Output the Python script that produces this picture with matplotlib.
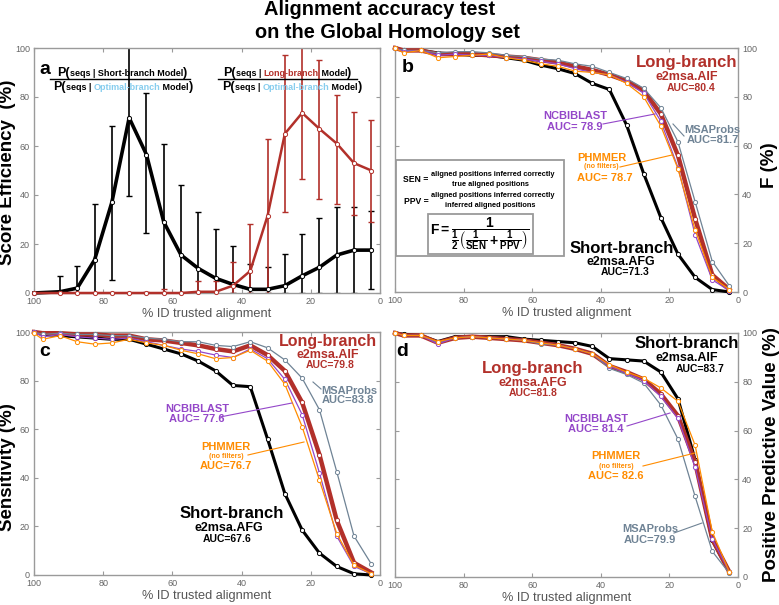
import numpy as np
import matplotlib.pyplot as plt
from matplotlib.lines import Line2D
from matplotlib.patches import Rectangle

plt.rcParams['font.family'] = ['Liberation Sans', 'DejaVu Sans']
plt.rcParams['mathtext.fontset'] = 'custom'
plt.rcParams['mathtext.rm'] = 'Liberation Sans:bold'
plt.rcParams['mathtext.it'] = 'Liberation Sans:bold'
plt.rcParams['mathtext.bf'] = 'Liberation Sans:bold'

# ---- data ----
# panel a: score efficiency
x_a = [100, 92.5, 87.5, 82.5, 77.5, 72.5, 67.5, 62.5, 57.5, 52.5,
       47.5, 42.5, 37.5, 32.5, 27.5, 22.5, 17.5, 12.5, 7.5, 2.5]
short_eff = [0, 0.5, 2, 13.5, 37, 71.5, 56.5, 29, 15.5, 10, 6, 3.5, 1.5, 1.5, 3, 7, 10.5, 15.5, 17.5, 17.5]
short_lo = [0, 0, 0, 0, 5.5, 39.5, 24.5, 0, 0, 0, 0, 0, 0, 0, 0, 0, 0, 0, 0, 1.5]
short_hi = [0, 7, 11, 36.5, 68, 104, 81.5, 61, 44, 33, 26, 19, 12, 10.5, 16, 24, 30.5, 35, 35, 33.5]
long_eff = [0, 0, 0, 0, 0, 0, 0, 0, 0, 0.5, 0.5, 3, 9, 31.5, 65, 73.5, 67, 61, 53, 50]
long_lo = [0, 0, 0, 0, 0, 0, 0, 0, 0, 0, 0, 0, 0, 0, 33, 46.5, 38.5, 36.5, 32, 29]
long_hi = [0, 0, 0, 0, 0, 0, 0.5, 1.5, 0, 5, 5, 12.5, 28, 63, 97, 104, 95, 81, 74, 70.5]

# panels b-d
x = [100, 97.5, 92.5, 87.5, 82.5, 77.5, 72.5, 67.5, 62.5, 57.5, 52.5,
     47.5, 42.5, 37.5, 32.5, 27.5, 22.5, 17.5, 12.5, 7.5, 2.5]

F_short = [100, 99, 99, 98, 97.5, 97, 97, 96, 95, 93, 91.5, 89.5, 85.5, 83, 68.5, 48.5, 30.5, 15.5, 6, 1, 0]
F_long = [100, 99, 99, 97.5, 97.5, 97.5, 97, 96.5, 96, 95, 94, 92.5, 91, 89, 86.5, 82.5, 73, 56, 30, 7, 1]
F_msa = [100, 99, 99, 98, 98.5, 98.5, 98, 97, 96.5, 95.5, 95, 93.5, 92.5, 90, 87.5, 83.5, 75.5, 61.5, 37, 12.5, 2.5]
F_blast = [100, 98.5, 99, 97, 97.5, 97, 97, 96, 95.5, 94.5, 93.5, 91.5, 90, 89, 86, 81.5, 70, 51, 23.5, 5, 0.5]
F_hmmer = [100, 98, 99, 96, 96.5, 97, 97.5, 96, 95, 93.5, 92.5, 90.5, 90, 89, 85.5, 80, 68, 50.5, 25.5, 6, 1]

S_short = [100, 99, 98.5, 98, 97.5, 97, 97, 95, 93, 91, 88, 84, 78, 77.5, 56, 33.5, 18.5, 9, 3.5, 0.5, 0]
S_long = [100, 99.5, 99.5, 99, 99, 98.5, 98.5, 97, 96.5, 95.5, 94.5, 93, 92, 94.5, 90.5, 84, 71, 49.5, 22.5, 5, 1]
S_msa = [100, 99, 99.5, 99, 99, 98.5, 98.5, 97.5, 97, 96, 96, 94.5, 94, 96, 93.5, 88.5, 81, 68, 42.5, 16, 4.5]
S_blast = [100, 98, 99, 98, 97.5, 97, 97.5, 96, 94.5, 93, 92, 90.5, 89.5, 93, 89, 80.5, 66, 42, 16, 3.5, 0.5]
S_hmmer = [99.5, 97, 98.5, 96, 95, 95.5, 97, 95.5, 94.5, 92.5, 91, 89, 89.5, 92.5, 88, 78.5, 61, 39, 17, 4, 0.5]

P_short = [100, 99.5, 99, 96.5, 98.5, 98.5, 98.5, 98.5, 97.5, 97, 96.5, 96, 94.5, 89.5, 89, 88.5, 84, 73, 48, 15, 2]
P_long = [100, 99, 99, 96, 98, 98.5, 98, 97.5, 97, 96, 95, 93.5, 91.5, 86.5, 84, 81, 75, 66, 47, 15.5, 2]
P_msa = [100, 99, 99, 96, 98, 98.5, 98, 97.5, 97, 95.5, 95, 93.5, 91.5, 85.5, 83, 79.5, 70.5, 56.5, 33, 10.5, 1.5]
P_blast = [100, 99, 99, 95.5, 98, 98.5, 98, 97.5, 97, 96, 95, 93.5, 91.5, 86.5, 83.5, 80.5, 74, 65, 45, 15.5, 2]
P_hmmer = [100, 99, 99, 96.5, 98, 98.5, 98, 97.5, 97, 96, 95, 93.5, 91.5, 87, 84, 81.5, 77.5, 72, 54, 18.5, 2]

RED = '#b2302a'
PURPLE = '#9447c9'
ORANGE = '#ff8c00'
SLATE = '#6f8395'
LBLUE = '#86cdee'
GRAY = '#9a9a9a'

W, H = 779, 605
fig = plt.figure(figsize=(W / 100, H / 100), dpi=100)


def add_ax(l, t, r, b):
    return fig.add_axes([l / W, 1 - b / H, (r - l) / W, (b - t) / H])


def style(ax, right=False):
    ax.set_xlim(100, 0)
    ax.set_ylim(0, 100)
    ax.set_xticks([100, 80, 60, 40, 20, 0])
    ax.set_yticks([0, 20, 40, 60, 80, 100])
    for s in ax.spines.values():
        s.set_color(GRAY)
        s.set_linewidth(1)
    ax.tick_params(direction='in', length=3, width=0.8, color=GRAY, labelsize=6.5,
                   labelcolor='#666666', top=True, right=True, pad=3)
    if right:
        ax.tick_params(labelleft=False, labelright=True)
    ax.set_xlabel('% ID trusted alignment', fontsize=9.2, color='#555555', labelpad=1)


def ftext(px, py, s, size, color='k', **kw):
    kw.setdefault('ha', 'center')
    kw.setdefault('va', 'center')
    return fig.text(px / W, 1 - py / H, s, fontsize=size, color=color, fontweight='bold', **kw)


def fline(p0, p1, color, lw=0.8):
    fig.add_artist(Line2D([p0[0] / W, p1[0] / W], [1 - p0[1] / H, 1 - p1[1] / H], color=color, lw=lw))


def chain(px, py, parts):
    # multi-colour text run on a common baseline
    yb = 1 - py / H
    prev = None
    for s, fs, c in parts:
        if prev is None:
            prev = fig.text(px / W, yb, s, fontsize=fs, color=c, fontweight='bold',
                            ha='left', va='baseline')
        else:
            prev = ax_a.annotate(s, xy=(1, yb), xycoords=(prev, 'figure fraction'),
                                 fontsize=fs, color=c, fontweight='bold', ha='left', va='baseline',
                                 annotation_clip=False)


def curves(ax, short, long_, msa, blast, hmmer):
    mk = dict(marker='o', ms=3, mfc='white', mew=0.7, clip_on=False)
    ax.plot(x, short, color='k', lw=2.2, mec='k', zorder=3, **mk)
    ax.plot(x, long_, color=RED, lw=3.2, mec=RED, zorder=3, **mk)
    ax.plot(x, msa, color=SLATE, lw=0.9, mec=SLATE, zorder=4, **mk)
    ax.plot(x, blast, color=PURPLE, lw=0.9, mec=PURPLE, zorder=4, **mk)
    ax.plot(x, hmmer, color=ORANGE, lw=0.9, mec=ORANGE, zorder=4, **mk)


# ---- panel a ----
ax_a = add_ax(34, 48, 380, 293)
style(ax_a)
s_eff = np.array(short_eff)
l_eff = np.array(long_eff)
ax_a.errorbar(x_a, s_eff, yerr=[s_eff - np.array(short_lo), np.clip(np.array(short_hi) - s_eff, 0, None)],
              fmt='none', ecolor='k', elinewidth=1.2, capsize=2, capthick=1, zorder=2)
ax_a.errorbar(x_a, l_eff, yerr=[l_eff - np.array(long_lo), np.clip(np.array(long_hi) - l_eff, 0, None)],
              fmt='none', ecolor=RED, elinewidth=1.2, capsize=2, capthick=1, zorder=2)
ax_a.plot(x_a, short_eff, color='k', lw=2.6, marker='o', ms=3, mfc='white', mec='k', mew=0.7,
          zorder=3, clip_on=False)
ax_a.plot(x_a, long_eff, color=RED, lw=1.8, marker='o', ms=3, mfc='white', mec=RED, mew=0.7,
          zorder=3, clip_on=False)

# ---- panel b ----
ax_b = add_ax(395, 48, 738, 292)
style(ax_b, right=True)
curves(ax_b, F_short, F_long, F_msa, F_blast, F_hmmer)

# ---- panel c ----
ax_c = add_ax(34, 332, 380, 575)
style(ax_c)
curves(ax_c, S_short, S_long, S_msa, S_blast, S_hmmer)

# ---- panel d ----
ax_d = add_ax(395, 333, 738, 577)
style(ax_d, right=True)
curves(ax_d, P_short, P_long, P_msa, P_blast, P_hmmer)

# ---- titles and axis labels ----
ftext(380, 15, 'Alignment accuracy test', 14.4, va='baseline')
ftext(387, 37.5, 'on the Global Homology set', 14.4, va='baseline')
ftext(8, 172, 'Score Efficiency  (%)', 13.5, rotation=90)
ftext(770, 165, 'F (%)', 13.5, rotation=90)
ftext(8, 467, 'Sensitivity (%)', 13.5, rotation=90)
ftext(771, 455, 'Positive Predictive Value (%)', 13.5, rotation=90)

for px, py, s in [(45, 69, 'a'), (408, 67, 'b'), (45, 352, 'c'), (402, 352, 'd')]:
    ftext(px, py, s, 14)

# ---- panel a ratio labels ----
chain(57, 76, [('P(', 9, 'k'), ('seqs | Short-branch Model', 6.5, 'k'), (')', 9, 'k')])
chain(53, 90, [('P(', 9, 'k'), ('seqs | ', 6.5, 'k'), ('Optimal-branch', 6.5, LBLUE),
               (' Model', 6.5, 'k'), (')', 9, 'k')])
fline((50, 79), (190, 79), 'k', 1)
chain(223, 76, [('P(', 9, 'k'), ('seqs | ', 6.5, 'k'), ('Long-branch', 6.5, RED),
                (' Model', 6.5, 'k'), (')', 9, 'k')])
chain(222, 90, [('P(', 9, 'k'), ('seqs | ', 6.5, 'k'), ('Optimal-branch', 6.5, LBLUE),
                (' Model', 6.5, 'k'), (')', 9, 'k')])
fline((218, 79), (357, 79), 'k', 1)

# ---- panel b formula box ----
fig.add_artist(Rectangle((396 / W, 1 - 256 / H), (564 - 396) / W, (256 - 160) / H,
                         transform=fig.transFigure, fc='white', ec=GRAY, lw=1.3, zorder=5))
fig.add_artist(Rectangle((428 / W, 1 - 254 / H), (533 - 428) / W, (254 - 214) / H,
                         transform=fig.transFigure, fc='white', ec=GRAY, lw=1.3, zorder=5))
ftext(416, 180, 'SEN =', 6.2, zorder=6)
ftext(493, 174, 'aligned positions inferred correctly', 5.3, zorder=6)
ftext(490, 184.5, 'true aligned positions', 5.3, zorder=6)
fline((429, 178.5), (561, 178.5), 'k', 0.8)
ftext(416, 201.5, 'PPV =', 6.2, zorder=6)
ftext(493, 195.5, 'aligned positions inferred correctly', 5.3, zorder=6)
ftext(490.5, 206, 'inferred aligned positions', 5.3, zorder=6)
fline((429, 200), (559, 200), 'k', 0.8)
ftext(480, 234, r'$F = \dfrac{1}{\frac{1}{2}\left(\frac{1}{SEN}+\frac{1}{PPV}\right)}$', 10, zorder=6)

# ---- curve labels ----
labels = [
    # panel b
    (687, 62, 'Long-branch', 12, RED), (687, 77, 'e2msa.AIF', 9, RED), (691, 88, 'AUC=80.4', 7.5, RED),
    (575, 116, 'NCBIBLAST', 8, PURPLE), (575, 127, 'AUC= 78.9', 8, PURPLE),
    (712, 130, 'MSAProbs', 8, SLATE), (713, 140, 'AUC=81.7', 8, SLATE),
    (602, 158, 'PHMMER', 8, ORANGE), (601, 167, '(no filters)', 5, ORANGE), (605, 178, 'AUC= 78.7', 8, ORANGE),
    (622, 248, 'Short-branch', 12, 'k'), (621, 262, 'e2msa.AFG', 9, 'k'), (625, 272, 'AUC=71.3', 7.5, 'k'),
    # panel c
    (328, 341.5, 'Long-branch', 11.5, RED), (328, 354.5, 'e2msa.AIF', 9, RED), (330, 364.5, 'AUC=79.8', 7.5, RED),
    (349, 391, 'MSAProbs', 8, SLATE), (348, 400, 'AUC=83.8', 8, SLATE),
    (197, 409, 'NCBIBLAST', 8, PURPLE), (197, 419, 'AUC= 77.6', 8, PURPLE),
    (226, 447, 'PHMMER', 8, ORANGE), (226, 456, '(no filters)', 5, ORANGE), (226, 466, 'AUC=76.7', 8, ORANGE),
    (232, 514, 'Short-branch', 12, 'k'), (229, 528, 'e2msa.AFG', 9, 'k'), (227, 539, 'AUC=67.6', 7.5, 'k'),
    # panel d
    (687, 344, 'Short-branch', 12, 'k'), (687, 358, 'e2msa.AIF', 9, 'k'), (700, 369, 'AUC=83.7', 7.5, 'k'),
    (533, 369, 'Long-branch', 12, RED), (533, 383, 'e2msa.AFG', 9, RED), (533, 393, 'AUC=81.8', 7.5, RED),
    (596, 419, 'NCBIBLAST', 8, PURPLE), (596, 429, 'AUC= 81.4', 8, PURPLE),
    (616, 456, 'PHMMER', 8, ORANGE), (616, 467, '(no filters)', 5, ORANGE), (616, 476, 'AUC= 82.6', 8, ORANGE),
    (650, 529, 'MSAProbs', 8, SLATE), (650, 540, 'AUC=79.9', 8, SLATE),
]
for px, py, s, fs, c in labels:
    ftext(px, py, s, fs, c)

callouts = [
    ((603, 124), (655, 114), PURPLE), ((684, 136), (673, 124), SLATE), ((620, 167), (672, 155), ORANGE),
    ((220, 417), (292, 403), PURPLE), ((321, 389), (313, 382), SLATE), ((248, 455), (304, 442), ORANGE),
    ((627, 426), (670, 413), PURPLE), ((643, 466), (695, 453), ORANGE), ((674, 533), (702, 523), SLATE),
]
for p0, p1, c in callouts:
    fline(p0, p1, c)

fig.savefig('out.png', dpi=100)
